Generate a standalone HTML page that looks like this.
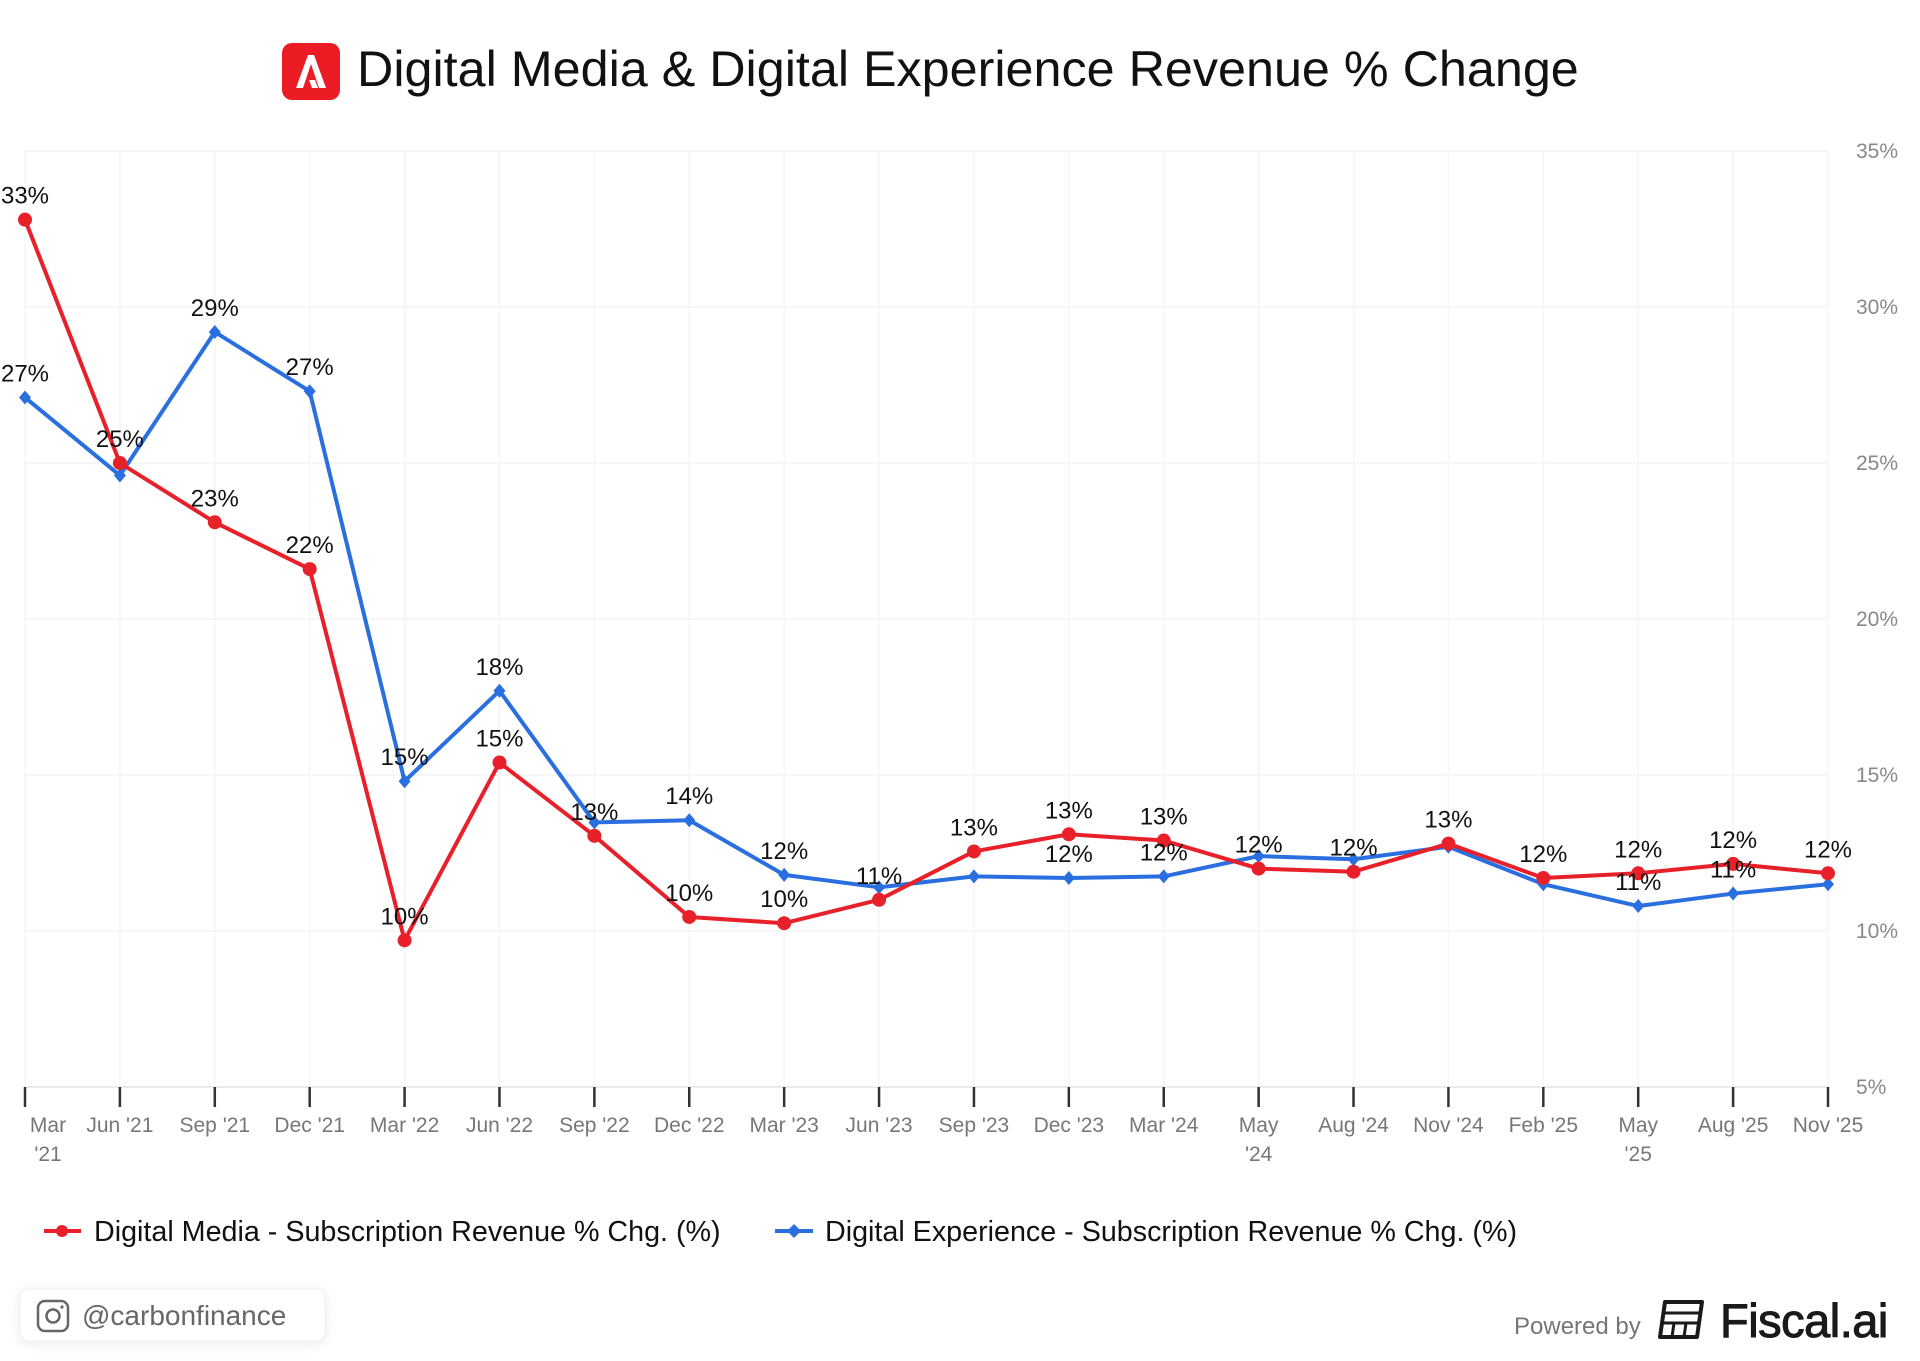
<!DOCTYPE html>
<html><head><meta charset="utf-8"><style>
html,body{margin:0;padding:0;background:#fff;}
body{width:1920px;height:1361px;position:relative;overflow:hidden;font-family:"Liberation Sans",Arial,sans-serif;}
svg{position:absolute;left:0;top:0;}
</style></head><body>
<svg id="chart" width="1920" height="1361" viewBox="0 0 1920 1361">
  <g>
    <rect x="282" y="43" width="58" height="57" rx="10" fill="#eb1c24"/>
    <path d="M296 88 L308 55 L314 55 L326 88 L319 88 L311 64 L303 88 Z M309 80 L315 80 L318 88 L312 88 Z" fill="#fff"/>
    <text x="357" y="86" font-size="50.3" fill="#111">Digital Media &amp; Digital Experience Revenue % Change</text>
  </g>
  <g id="grid"></g>
  <g id="yaxis"></g>
  <g id="xaxis"></g>
  <g id="series"></g>
  <g id="labels"></g>
  <g>
    <g>
      <line x1="44" y1="1231" x2="81" y2="1231" stroke="#e8202a" stroke-width="4"/>
      <circle cx="62" cy="1231" r="6" fill="#e8202a"/>
      <text x="94" y="1241" font-size="28.7" fill="#111">Digital Media - Subscription Revenue % Chg. (%)</text>
    </g>
    <g>
      <line x1="775" y1="1231" x2="813" y2="1231" stroke="#2a6fe0" stroke-width="4"/>
      <path d="M794 1224 L801 1231 L794 1238 L787 1231 Z" fill="#2a6fe0"/>
      <text x="825" y="1241" font-size="28.7" fill="#111">Digital Experience - Subscription Revenue % Chg. (%)</text>
    </g>
  </g>
  <g>
    <rect x="20" y="1289" width="305" height="52" rx="8" fill="#fff" stroke="#f0f0f0" style="filter:drop-shadow(0 2px 6px rgba(0,0,0,0.08))"/>
    <rect x="38" y="1301" width="30" height="30" rx="7" fill="none" stroke="#666" stroke-width="2.5"/>
    <circle cx="53" cy="1316" r="6.5" fill="none" stroke="#666" stroke-width="2.5"/>
    <circle cx="62" cy="1307" r="1.6" fill="#666"/>
    <text x="82" y="1325" font-size="28" fill="#666">@carbonfinance</text>
  </g>
  <g>
    <text x="1514" y="1334" font-size="24" fill="#7a7570">Powered by</text>
    <g fill="none" stroke="#1a1a1a" stroke-width="4">
      <path d="M1665 1302 L1702 1302 L1697 1337 L1660 1337 Z" stroke-linejoin="round"/>
      <path d="M1664 1313 L1700 1313 M1663 1323 L1699 1323 M1674 1323 L1672 1337 M1686 1323 L1684 1337" stroke-width="3"/>
    </g>
    <text x="1720" y="1337" font-size="47" fill="#1a1a1a" stroke="#1a1a1a" stroke-width="1" style="letter-spacing:-0.5px">Fiscal.ai</text>
  </g>
</svg>
<script>
const categories = ["Mar '21","Jun '21","Sep '21","Dec '21","Mar '22","Jun '22","Sep '22","Dec '22","Mar '23","Jun '23","Sep '23","Dec '23","Mar '24","May '24","Aug '24","Nov '24","Feb '25","May '25","Aug '25","Nov '25"];
const digitalMedia = [32.8,25.0,23.1,21.6,9.7,15.4,13.05,10.45,10.25,11.0,12.55,13.1,12.9,12.0,11.9,12.8,11.7,11.85,12.15,11.85];
const digitalExperience = [27.1,24.6,29.2,27.3,14.8,17.7,13.48,13.55,11.8,11.4,11.75,11.7,11.75,12.4,12.3,12.7,11.5,10.8,11.2,11.5];
const yTicks = [5,10,15,20,25,30,35];
const twoLine = ["Mar '21","May '24","May '25"];

const NS = "http://www.w3.org/2000/svg";
const L = 25, R = 1828, T = 151, B = 1087, YMIN = 5, YMAX = 35;
function x(i){ return L + (R - L) * i / (categories.length - 1); }
function y(v){ return B - (v - YMIN) / (YMAX - YMIN) * (B - T); }
function mk(tag, attrs, parent){ const e = document.createElementNS(NS, tag); for (const k in attrs) e.setAttribute(k, attrs[k]); parent.appendChild(e); return e; }

const grid = document.getElementById('grid'), yaxis = document.getElementById('yaxis'), xaxis = document.getElementById('xaxis');
yTicks.forEach(t => {
  const ln = mk('line', {x1: L, x2: R, y1: y(t), y2: y(t), stroke: t === YMIN ? '#e4e4e4' : '#f3f3f3', 'stroke-width': 1.5}, grid);
  
  
  const tx = mk('text', {x: 1856, y: y(t) + 7, 'font-size': 21, fill: '#888'}, yaxis);
  tx.textContent = t + '%';
  
  
});
categories.forEach((c, i) => {
  const g = mk('line', {x1: x(i), x2: x(i), y1: T, y2: B, stroke: '#f5f5f5', 'stroke-width': 1.5}, grid);
  
  
  const tk = mk('line', {x1: x(i), x2: x(i), y1: B, y2: B + 20, stroke: '#333', 'stroke-width': 2.5}, xaxis);
  
  
  let cx = x(i);
  if (i === 0) cx = x(i) + 23;
  if (twoLine.includes(c)) {
    const parts = c.split(' ');
    const t1 = mk('text', {x: cx, y: 1132, 'font-size': 21, fill: '#777', 'text-anchor': 'middle'}, xaxis);
    t1.textContent = parts[0];
    
    
    const t2 = mk('text', {x: cx, y: 1161, 'font-size': 21, fill: '#777', 'text-anchor': 'middle'}, xaxis);
    t2.textContent = parts[1];
    
    
  } else {
    const t1 = mk('text', {x: cx, y: 1132, 'font-size': 21, fill: '#777', 'text-anchor': 'middle'}, xaxis);
    t1.textContent = c;
    
    
  }
});

const series = document.getElementById('series'), labels = document.getElementById('labels');
function drawSeries(vals, color, kind, name, other){
  const pts = vals.map((v, i) => x(i) + ',' + y(v)).join(' ');
  const pl = mk('polyline', {points: pts, fill: 'none', stroke: color, 'stroke-width': 4, 'stroke-linejoin': 'round'}, series);
  
  
  vals.forEach((v, i) => {
    let m;
    if (kind === 'circle') m = mk('circle', {cx: x(i), cy: y(v), r: 7, fill: color}, series);
    else { const px = x(i), py = y(v); m = mk('path', {d: `M${px} ${py-7}L${px+6} ${py}L${px} ${py+7}L${px-6} ${py}Z`, fill: color}, series); }
    
    
    if (other && Math.abs(y(v) - y(other[i])) < 28) return;
    const t = mk('text', {x: x(i), y: y(v) - 16, 'font-size': 24, fill: '#111', 'text-anchor': 'middle'}, labels);
    t.textContent = Math.round(v) + '%';
    
    
  });
}
drawSeries(digitalExperience, '#2a6fe0', 'diamond', 'digital-experience', digitalMedia);
drawSeries(digitalMedia, '#e8202a', 'circle', 'digital-media', null);
</script>
</body></html>
